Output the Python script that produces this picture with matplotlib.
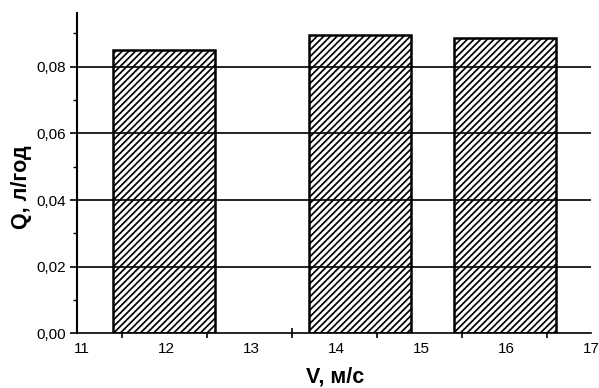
import matplotlib
matplotlib.use("Agg")
import matplotlib.pyplot as plt
from matplotlib.ticker import FixedLocator, FuncFormatter

plt.rcParams['font.family'] = ['Liberation Sans', 'DejaVu Sans']
plt.rcParams['hatch.linewidth'] = 1.25

# Data
speeds = [11.97, 14.28, 15.99]          # V, m/s (bar centres)
flow = [0.0850, 0.0895, 0.0887]         # Q, l/h
bar_width = 1.2
x_tick_labels = [11, 12, 13, 14, 15, 16, 17]
x_tick_marks = [11.48, 12.48, 13.48, 14.48, 15.48, 16.48]
y_ticks = [0.00, 0.02, 0.04, 0.06, 0.08]
y_minor = [0.01, 0.03, 0.05, 0.07, 0.09]
grid_levels = [0.02, 0.04, 0.06, 0.08]

fig = plt.figure(figsize=(5.99, 3.88), dpi=100)
ax = fig.add_axes([0.1285, 0.141, 0.858, 0.826])

ax.bar(speeds, flow, width=bar_width, facecolor='white', edgecolor='black',
       linewidth=1.8, hatch='/////', zorder=2)
for g in grid_levels:
    ax.axhline(g, color='black', linewidth=1.2, zorder=3)

ax.set_xlim(10.945, 17.0)
ax.set_ylim(0, 0.0962)

ax.spines['top'].set_visible(False)
ax.spines['right'].set_visible(False)
ax.spines['left'].set_linewidth(1.5)
ax.spines['bottom'].set_linewidth(1.2)

ax.xaxis.set_major_locator(FixedLocator(x_tick_labels))
ax.xaxis.set_minor_locator(FixedLocator(x_tick_marks))
ax.tick_params(axis='x', which='major', length=0, pad=6, labelsize=11)
ax.tick_params(axis='x', which='minor', length=7, width=1.2, direction='inout')

ax.yaxis.set_major_locator(FixedLocator(y_ticks))
ax.yaxis.set_minor_locator(FixedLocator(y_minor))
ax.yaxis.set_major_formatter(FuncFormatter(lambda v, p: f"{v:.2f}".replace('.', ',')))
ax.tick_params(axis='y', which='major', length=5, width=1.2, direction='out', pad=3, labelsize=11)
ax.tick_params(axis='y', which='minor', length=3, width=1.0, direction='out')

ax.set_xlabel('V, м/с', fontsize=15.5, fontweight='bold')
ax.set_ylabel('Q, л/год', fontsize=15.5, fontweight='bold')
ax.xaxis.set_label_coords(0.502, -0.105)
ax.yaxis.set_label_coords(-0.0875, 0.456)

fig.savefig('out.png', dpi=100)
